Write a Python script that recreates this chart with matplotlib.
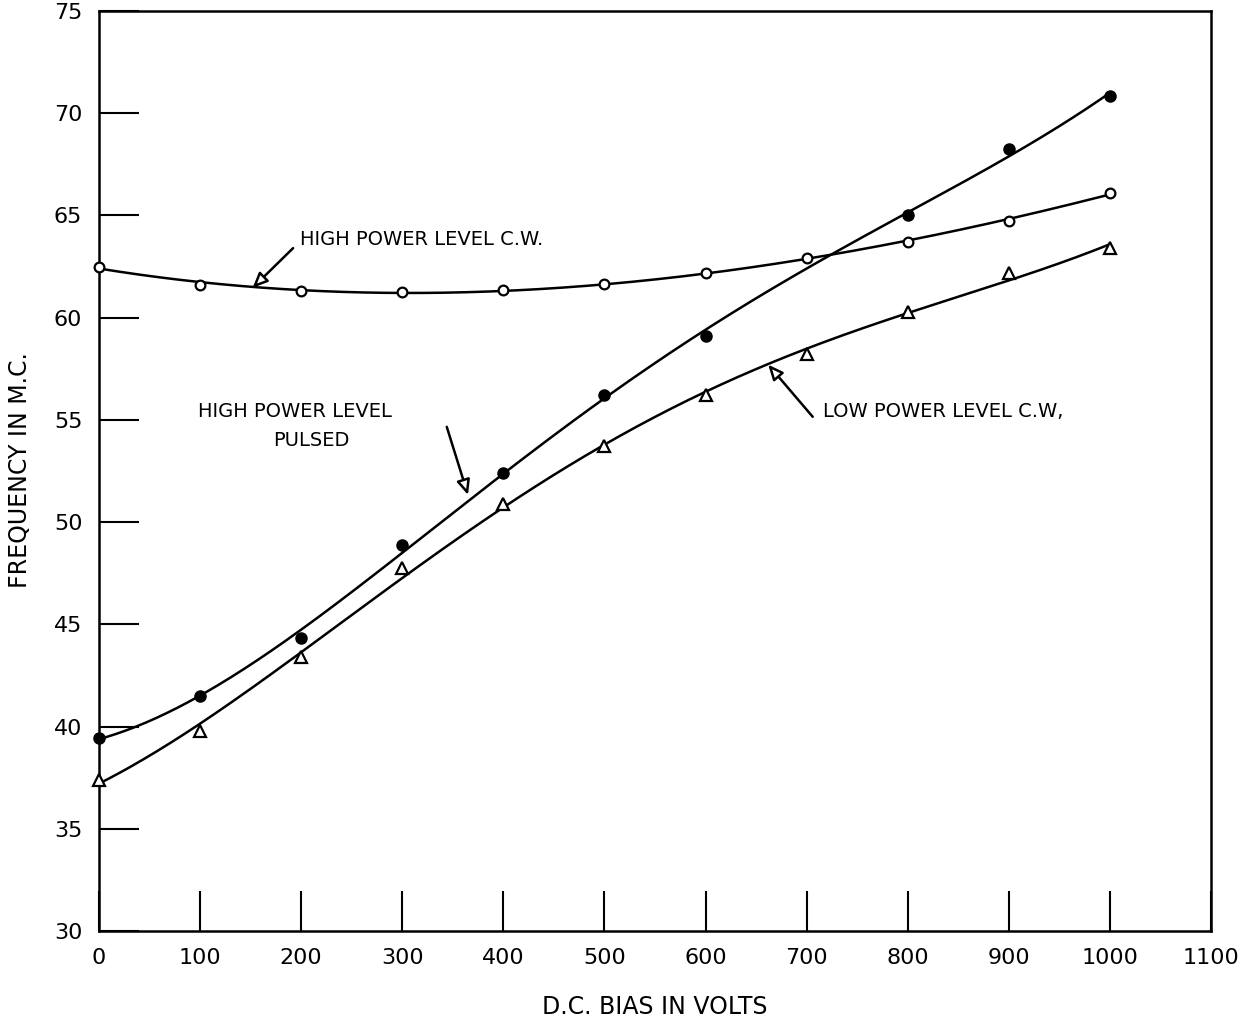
import numpy as np
import matplotlib
matplotlib.use("Agg")
import matplotlib.pyplot as plt

# Data (D.C. bias in volts vs frequency in M.C.)
bias = [0, 100, 200, 300, 400, 500, 600, 700, 800, 900, 1000]
high_cw = [62.5, 61.6, 61.3, 61.25, 61.35, 61.65, 62.2, 62.9, 63.7, 64.75, 66.1]
low_cw = [37.4, 39.8, 43.4, 47.75, 50.9, 53.7, 56.2, 58.2, 60.3, 62.2, 63.4]
pulsed_bias = [0, 100, 200, 300, 400, 500, 600, 800, 900, 1000]
pulsed = [39.45, 41.5, 44.35, 48.9, 52.4, 56.2, 59.1, 65.0, 68.25, 70.85]

xticks = [0, 100, 200, 300, 400, 500, 600, 700, 800, 900, 1000, 1100]
yticks = [30, 35, 40, 45, 50, 55, 60, 65, 70, 75]

plt.rcParams['font.family'] = ['DejaVu Sans']

fig = plt.figure(figsize=(12.53, 10.26), dpi=100)
ax = fig.add_axes([0.079, 0.0926, 0.8875, 0.8967])

# smooth drawn curves through the points
xs = np.linspace(0, 1000, 300)
for bx, by, deg in [(bias, high_cw, 3), (bias, low_cw, 4), (pulsed_bias, pulsed, 4)]:
    c = np.polyfit(bx, by, deg)
    ax.plot(xs, np.polyval(c, xs), color='black', lw=1.8, zorder=2)

ax.plot(bias, high_cw, 'o', ms=7, mfc='white', mec='black', mew=1.6, zorder=3,
        clip_on=False)
ax.plot(bias, low_cw, '^', ms=8, mfc='white', mec='black', mew=1.6, zorder=3,
        clip_on=False)
ax.plot(pulsed_bias, pulsed, 'o', ms=8, mfc='black', mec='black', zorder=3,
        clip_on=False)

ax.set_xlim(0, 1100)
ax.set_ylim(30, 75)
ax.set_xticks(xticks)
ax.set_yticks(yticks)
ax.tick_params(direction='in', length=29, width=1.5, labelsize=16, pad=12)
for s in ax.spines.values():
    s.set_linewidth(1.8)

# annotations with open arrowheads
arrow = dict(arrowstyle='-|>,head_length=0.45,head_width=0.2', fc='white',
             ec='black', lw=1.8, mutation_scale=20, shrinkA=0, shrinkB=0)
ax.annotate('', xy=(152, 61.46), xytext=(192, 63.4), arrowprops=arrow)
ax.text(199, 63.8, 'HIGH POWER LEVEL C.W.', fontsize=14, ha='left', va='center')

ax.annotate('', xy=(365, 51.33), xytext=(344, 54.66), arrowprops=arrow)
ax.text(98, 55.4, 'HIGH POWER LEVEL', fontsize=14, ha='left', va='center')
ax.text(210, 54.0, 'PULSED', fontsize=14, ha='center', va='center')

ax.annotate('', xy=(662, 57.7), xytext=(706, 55.15), arrowprops=arrow)
ax.text(716, 55.4, 'LOW POWER LEVEL C.W,', fontsize=14, ha='left', va='center')

fig.text(20 / 1253, 1 - 470 / 1026, 'FREQUENCY IN M.C.', rotation=90,
         fontsize=17, ha='center', va='center')
fig.text(655 / 1253, 1 - 1007 / 1026, 'D.C. BIAS IN VOLTS',
         fontsize=17, ha='center', va='center')

fig.savefig('out.png', dpi=100)
